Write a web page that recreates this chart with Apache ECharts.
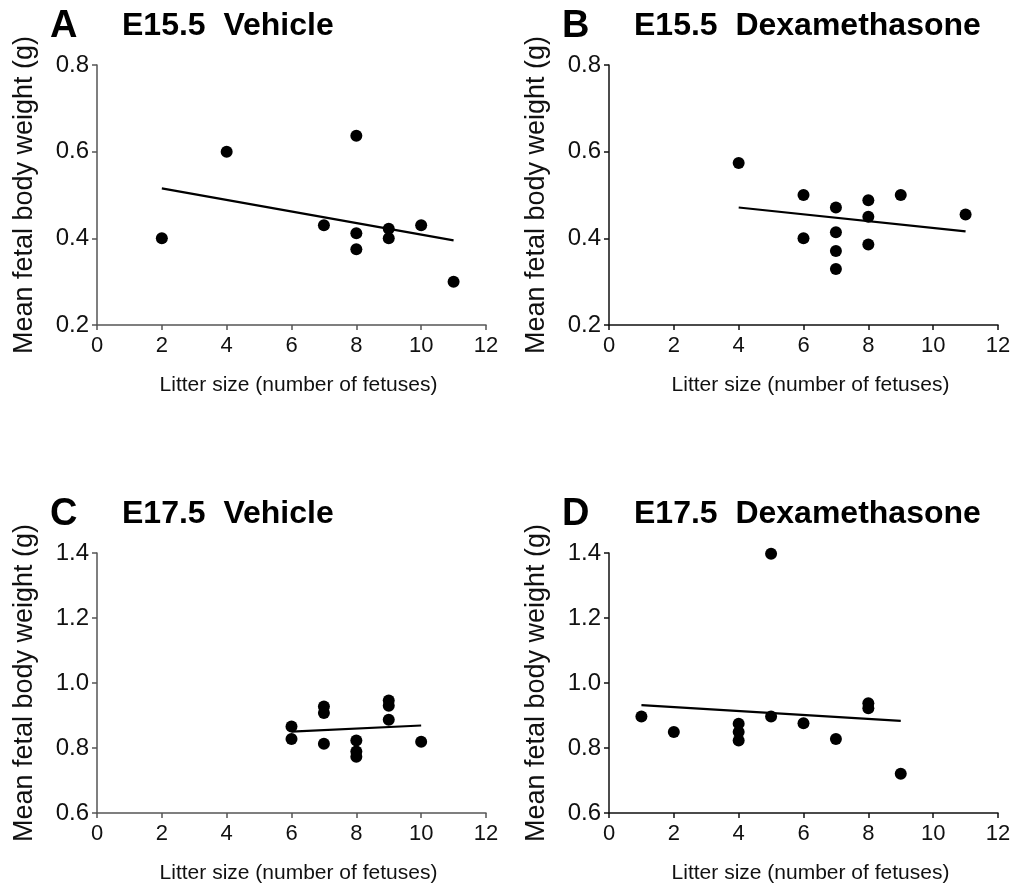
<!DOCTYPE html>
<html>
<head>
<meta charset="utf-8">
<title>Litter size vs fetal body weight</title>
<script src="https://cdn.jsdelivr.net/npm/echarts@6.0.0/dist/echarts.min.js"></script>
<style>
  body { margin: 0; background: #fff; }
  #chart { width: 1014px; height: 890px; }
</style>
</head>
<body>
<div id="chart"></div>
<script>
// litter size (x) and mean fetal body weight in g (y), one pair of arrays per panel
var litterA = [2, 4, 7, 8, 8, 8, 9, 9, 10, 11];
var weightA = [0.40, 0.60, 0.43, 0.637, 0.412, 0.375, 0.422, 0.40, 0.43, 0.30];

var litterB = [4, 6, 6, 7, 7, 7, 7, 8, 8, 8, 9, 11];
var weightB = [0.574, 0.50, 0.40, 0.471, 0.414, 0.371, 0.329, 0.488, 0.45, 0.386, 0.50, 0.455];

var litterC = [6, 6, 7, 7, 7, 8, 8, 8, 9, 9, 9, 10];
var weightC = [0.866, 0.828, 0.928, 0.908, 0.813, 0.823, 0.789, 0.773, 0.946, 0.930, 0.887, 0.819];

var litterD = [1, 2, 4, 4, 4, 5, 5, 6, 7, 8, 8, 9];
var weightD = [0.897, 0.849, 0.875, 0.849, 0.823, 1.398, 0.897, 0.876, 0.828, 0.938, 0.922, 0.721];

var panelLetters = ['A', 'B', 'C', 'D'];
var panelTitles = ['E15.5  Vehicle', 'E15.5  Dexamethasone', 'E17.5  Vehicle', 'E17.5  Dexamethasone'];
var yRanges = [[0.2, 0.8], [0.2, 0.8], [0.6, 1.4], [0.6, 1.4]];
var xName = 'Litter size (number of fetuses)';
var yName = 'Mean fetal body weight (g)';

var panels = [
  { x: litterA, y: weightA, left: 97, top: 65, axisColor: '#555' },
  { x: litterB, y: weightB, left: 609, top: 65, axisColor: '#111' },
  { x: litterC, y: weightC, left: 97, top: 553, axisColor: '#555' },
  { x: litterD, y: weightD, left: 609, top: 553, axisColor: '#111' }
];

// least squares fit, drawn between the smallest and largest litter
function fitLine(xs, ys) {
  var n = xs.length, mx = 0, my = 0;
  for (var i = 0; i < n; i++) { mx += xs[i]; my += ys[i]; }
  mx /= n; my /= n;
  var sxy = 0, sxx = 0;
  for (var j = 0; j < n; j++) {
    sxy += (xs[j] - mx) * (ys[j] - my);
    sxx += (xs[j] - mx) * (xs[j] - mx);
  }
  var b = sxy / sxx, a = my - b * mx;
  var x0 = Math.min.apply(null, xs), x1 = Math.max.apply(null, xs);
  return [[x0, a + b * x0], [x1, a + b * x1]];
}

var font = 'Arial, "Liberation Sans", sans-serif';
var grids = [], xAxes = [], yAxes = [], series = [], graphics = [];

panels.forEach(function (p, k) {
  grids.push({ left: p.left, top: p.top, width: 389, height: 260 });
  xAxes.push({
    gridIndex: k, type: 'value', min: 0, max: 12, interval: 2,
    name: xName, nameLocation: 'middle', nameGap: 50,
    nameTextStyle: { fontFamily: font, fontSize: 21, color: '#111', padding: [0, 0, 0, 14] },
    axisLine: { lineStyle: { color: p.axisColor, width: 1.5 } },
    axisTick: { length: 5, lineStyle: { color: p.axisColor, width: 1.5 } },
    axisLabel: { fontFamily: font, fontSize: 22, color: '#111', margin: 10 },
    splitLine: { show: false }
  });
  yAxes.push({
    gridIndex: k, type: 'value', min: yRanges[k][0], max: yRanges[k][1], interval: 0.2,
    name: yName, nameLocation: 'middle', nameGap: 59,
    nameTextStyle: { fontFamily: font, fontSize: 27, color: '#111' },
    axisLine: { show: true, lineStyle: { color: p.axisColor, width: 1.5 } },
    axisTick: { show: true, length: 5, lineStyle: { color: p.axisColor, width: 1.5 } },
    axisLabel: {
      fontFamily: font, fontSize: 24, color: '#111', margin: 8,
      formatter: function (v) { return v.toFixed(1); }
    },
    splitLine: { show: false }
  });
  series.push({
    type: 'scatter', xAxisIndex: k, yAxisIndex: k,
    data: p.x.map(function (v, i) { return [v, p.y[i]]; }),
    symbol: 'circle', symbolSize: 12,
    itemStyle: { color: '#000', opacity: 1 }
  });
  series.push({
    type: 'line', xAxisIndex: k, yAxisIndex: k,
    data: fitLine(p.x, p.y), symbol: 'none',
    lineStyle: { color: '#000', width: 2.2 }, z: 1
  });
  graphics.push({
    type: 'text', left: p.left - 47, top: p.top - 57,
    style: { text: panelLetters[k], font: 'bold 38px ' + font, fill: '#000' }
  });
  graphics.push({
    type: 'text', left: p.left + 25, top: p.top - 55,
    style: { text: panelTitles[k], font: 'bold 32px ' + font, fill: '#000' }
  });
});

var chart = echarts.init(document.getElementById('chart'));
chart.setOption({
  animation: false,
  grid: grids,
  xAxis: xAxes,
  yAxis: yAxes,
  series: series,
  graphic: graphics
});
</script>
</body>
</html>
